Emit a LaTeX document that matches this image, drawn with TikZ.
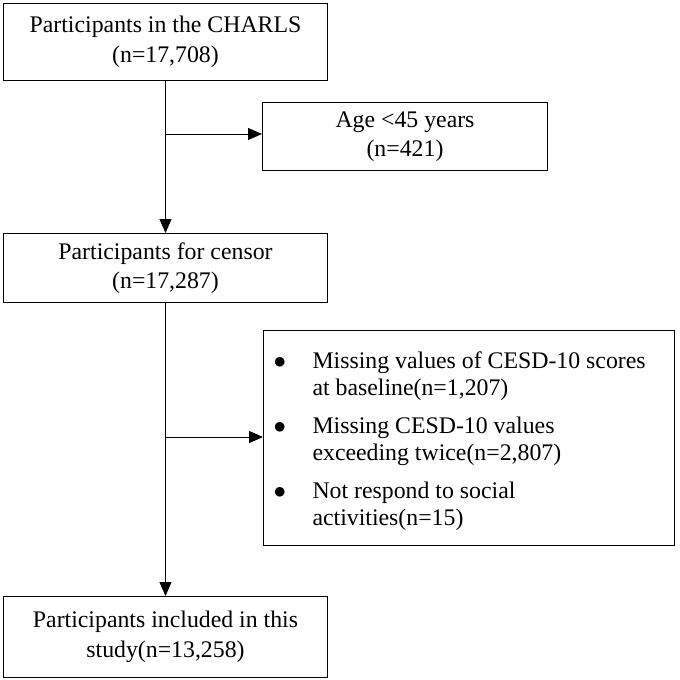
\documentclass[tikz,border=0pt]{standalone}
\usepackage{fontspec}
\setmainfont{Liberation Serif}
\usetikzlibrary{arrows.meta}
\begin{document}
\begin{tikzpicture}[x=1pt,y=-1pt,
  box/.style={draw,line width=1pt,inner sep=0pt},
  txt/.style={font=\fontsize{23.8}{29.5}\selectfont,align=center},
  arr/.style={line width=1pt,-{Triangle[length=14pt,width=12pt]}}]
\useasboundingbox (0,0) rectangle (680,680);
\node[box,minimum width=324pt,minimum height=77pt,anchor=north west] (b1) at (3,3) {};
\node[txt] at (b1.center) {Participants in the CHARLS\\(n=17,708)};
\node[box,minimum width=285pt,minimum height=68pt,anchor=north west] (b2) at (262,102) {};
\node[txt] at (b2.center) {Age <45 years\\(n=421)};
\node[box,minimum width=324pt,minimum height=69pt,anchor=north west] (b3) at (3,233) {};
\node[txt] at (b3.center) {Participants for censor\\(n=17,287)};
\node[box,minimum width=411pt,minimum height=215pt,anchor=north west] (b4) at (263,330) {};
\node[txt,align=left,anchor=north west] (t4) at (270,344) {\begin{tabular}{@{}p{39pt}@{}l@{}}
$\bullet$ & Missing values of CESD-10 scores\\[-2pt]
 & at baseline(n=1,207)\\[8pt]
$\bullet$ & Missing CESD-10 values\\[-2pt]
 & exceeding twice(n=2,807)\\[8pt]
$\bullet$ & Not respond to social\\[-2pt]
 & activities(n=15)
\end{tabular}};
\node[box,minimum width=324pt,minimum height=81pt,anchor=north west] (b5) at (3,596) {};
\node[txt] at (b5.center) {Participants included in this\\study(n=13,258)};
\coordinate (j1) at (165,134);
\coordinate (j2) at (165,437);
\draw[arr] (b1.south) -- (b3.north);
\draw[arr] (b3.south) -- (b5.north);
\draw[arr] (j1) -- (j1 -| b2.west);
\draw[arr] (j2) -- (j2 -| b4.west);
\end{tikzpicture}
\end{document}
